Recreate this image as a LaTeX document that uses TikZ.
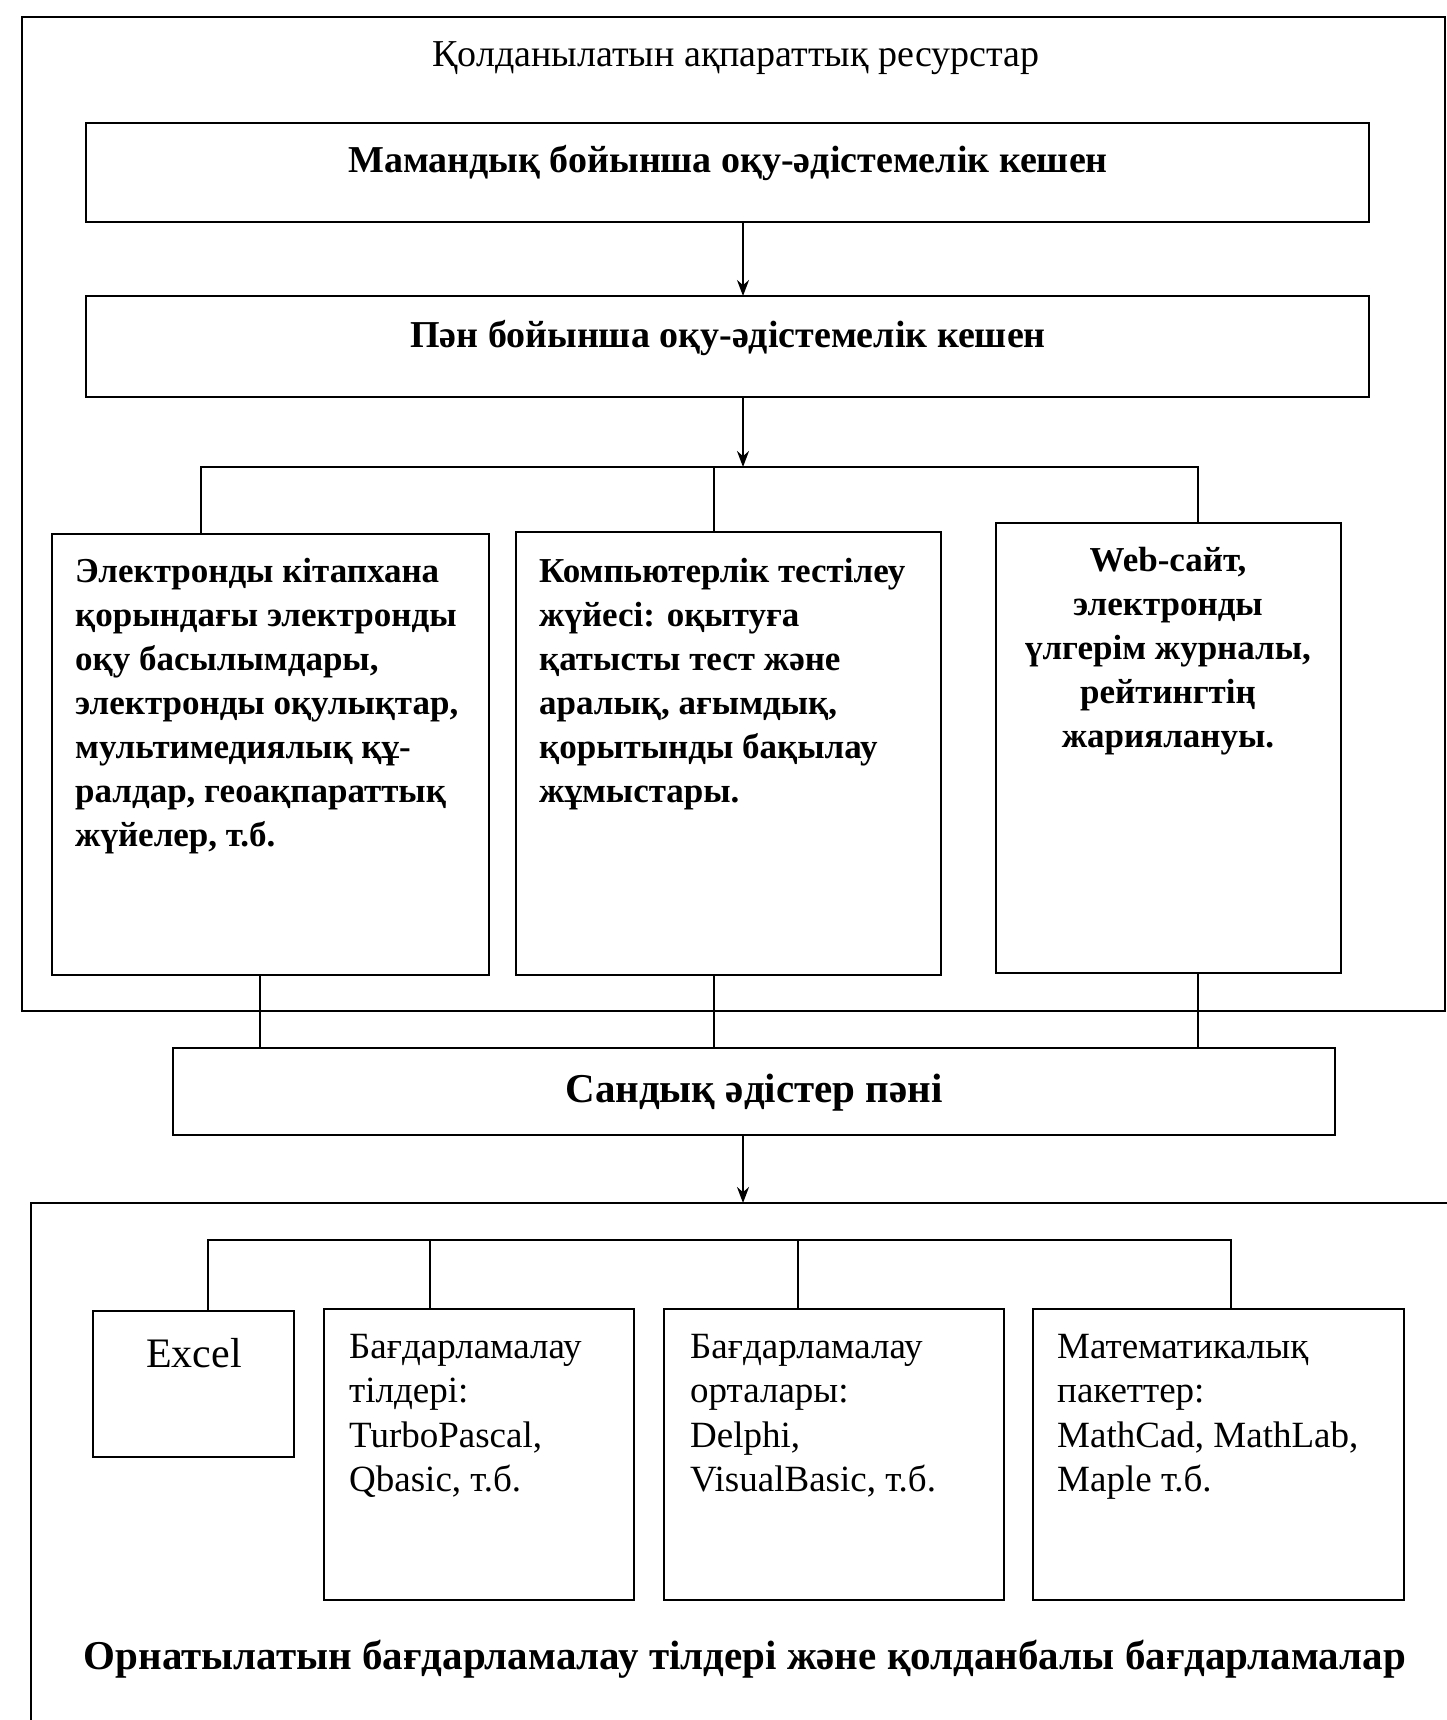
\documentclass[tikz,border=0pt]{standalone}
\usepackage{fontspec}
\setmainfont{Liberation Serif}
\usetikzlibrary{arrows.meta,calc}
\begin{document}
\begin{tikzpicture}[x=1pt,y=-1pt,
  box/.style={draw,line width=2.6pt,inner sep=0pt,outer sep=0pt,anchor=center},
  ln/.style={line width=2pt},
  arr/.style={line width=2pt,-{Stealth[length=16pt,width=12pt]}},
  txt/.style={inner sep=0pt,font=\fontsize{37}{44.5}\selectfont,align=left,anchor=north west},
  btxt/.style={txt,font=\fontsize{35}{44}\selectfont\bfseries},
  head/.style={inner sep=0pt,font=\fontsize{38}{44}\selectfont\bfseries}]
\useasboundingbox (0,0) rectangle (1447,1720);
% outer frames
\node[box,minimum width=1423pt,minimum height=994pt] (res) at (733.5,514) {};
\begin{scope}
\clip (0,0) rectangle (1447,1720);
\node[box,minimum width=1449pt,minimum height=557pt] (inst) at (755.5,1481.5) {};
\end{scope}
\node[inner sep=0pt,font=\fontsize{38}{44}\selectfont] (title) at (736,58) {Қолданылатын ақпараттық ресурстар};
% top boxes
\node[box,minimum width=1283pt,minimum height=99pt] (m1) at (727.5,172.5) {};
\node[head] (m1t) at (728,163) {Мамандық бойынша оқу-әдістемелік кешен};
\node[box,minimum width=1283pt,minimum height=101pt] (m2) at (727.5,346.5) {};
\node[head] (m2t) at (728,338) {Пән бойынша оқу-әдістемелік кешен};
% three resource boxes
\node[box,minimum width=437pt,minimum height=441pt] (A) at (270.5,754.5) {};
\node[box,minimum width=425pt,minimum height=443pt] (B) at (728.5,753.5) {};
\node[box,minimum width=345pt,minimum height=450pt] (C) at (1168.5,748) {};
\node[btxt] (At) at (75,558) {Электронды кітапхана\\қорындағы электронды\\оқу басылымдары,\\электронды оқулықтар,\\мультимедиялық құ-\\ралдар, геоақпараттық\\жүйелер, т.б.};
\node[btxt] (Bt) at (539,558) {Компьютерлік тестілеу\\жүйесі: оқытуға\\қатысты тест және\\аралық, ағымдық,\\қорытынды бақылау\\жұмыстары.};
\node[btxt,align=center,anchor=north] (Ct) at (1168,547) {Web-сайт,\\электронды\\үлгерім журналы,\\рейтингтің\\жариялануы.};
% subject box
\node[box,minimum width=1162pt,minimum height=87pt] (S) at (754,1091.5) {};
\node[head,font=\fontsize{41}{44}\selectfont\bfseries] (St) at (754,1093) {Сандық әдістер пәні};
% bottom boxes
\node[box,minimum width=201pt,minimum height=146pt] (E) at (193.5,1384) {};
\node[box,minimum width=310pt,minimum height=291pt] (P1) at (479,1454.5) {};
\node[box,minimum width=340pt,minimum height=291pt] (P2) at (834,1454.5) {};
\node[box,minimum width=371pt,minimum height=291pt] (P3) at (1218.5,1454.5) {};
\node[inner sep=0pt,font=\fontsize{42}{44}\selectfont] (Et) at (194,1353) {Excel};
\node[txt] (P1t) at (349,1334) {Бағдарламалау\\тілдері:\\TurboPascal,\\Qbasic, т.б.};
\node[txt] (P2t) at (690,1334) {Бағдарламалау\\орталары:\\Delphi,\\VisualBasic, т.б.};
\node[txt] (P3t) at (1057,1334) {Математикалық\\пакеттер:\\MathCad, MathLab,\\Maple т.б.};
\node[inner sep=0pt,font=\fontsize{41}{44}\selectfont\bfseries] (lbl) at (745,1659) {Орнатылатын бағдарламалау тілдері және қолданбалы бағдарламалар};
% connectors
\coordinate (axis) at (743,0);
\coordinate (bus1) at (0,467);
\coordinate (xa) at (201,0);
\coordinate (xb) at (714,0);
\coordinate (xc) at (1198,0);
\coordinate (xa2) at (260,0);
\draw[arr] (axis |- m1.south) -- (axis |- m2.north);
\draw[arr] (axis |- m2.south) -- (axis |- bus1);
\draw[ln] (xa |- A.north) -- (xa |- bus1) -- (xc |- bus1) -- (xc |- C.north);
\draw[ln] (xb |- bus1) -- (xb |- B.north);
\draw[ln] (xa2 |- A.south) -- (xa2 |- S.north);
\draw[ln] (xb |- B.south) -- (xb |- S.north);
\draw[ln] (xc |- C.south) -- (xc |- S.north);
\draw[arr] (axis |- S.south) -- (axis |- inst.north);
\coordinate (bus2) at (0,1240);
\coordinate (xe) at (208,0);
\coordinate (xp1) at (430,0);
\coordinate (xp2) at (798,0);
\coordinate (xp3) at (1231,0);
\draw[ln] (xe |- E.north) -- (xe |- bus2) -- (xp3 |- bus2) -- (xp3 |- P3.north);
\draw[ln] (xp1 |- bus2) -- (xp1 |- P1.north);
\draw[ln] (xp2 |- bus2) -- (xp2 |- P2.north);
\end{tikzpicture}
\end{document}
